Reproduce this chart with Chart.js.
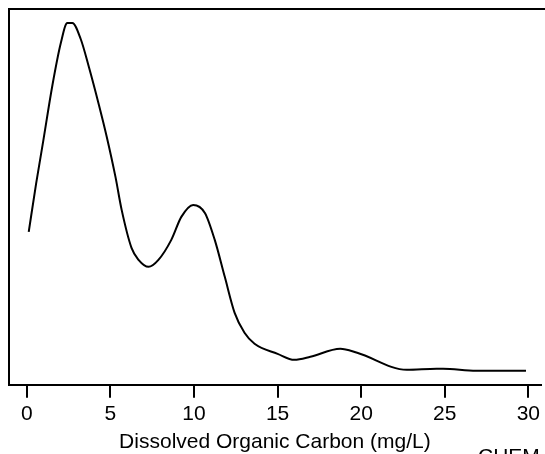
<!DOCTYPE html>
<html>
<head>
<meta charset="utf-8">
<script src="https://cdn.jsdelivr.net/npm/chart.js@4"></script>
<style>
  html, body { margin: 0; padding: 0; background: #fff; }
  #wrap { width: 545px; height: 454px; }
</style>
</head>
<body>
<div id="wrap"><canvas id="docChart"></canvas></div>
<script>
// density curve of DOC (mg/L)
const docValues = [0.11, 0.55, 0.94, 1.53, 2.03, 2.42, 2.72, 3.22, 3.71, 4.31, 4.78, 5.30, 5.67, 6.26, 6.68, 7.28,
  7.87, 8.64, 9.24, 9.95, 10.65, 11.24, 11.84, 12.43, 13.02, 13.62, 15.0, 16.0, 16.96, 18.75, 19.76,
  22.73, 24.51, 24.9, 26.88, 29.86];
const densityValues = [153, 201, 240, 300, 342, 362, 362, 346, 318, 280, 248, 208, 175, 137, 125, 118,
  125, 145, 168, 180, 172, 145, 108, 72, 52, 41, 31, 25, 28, 36, 32,
  15, 16, 16, 14, 14];
const tickValues = [0, 5, 10, 15, 20, 25, 30];
const xTitle = "Dissolved Organic Carbon (mg/L)";
const cornerText = "CHEM";

const font = "'Liberation Sans', Arial, sans-serif";

const points = docValues.map((x, i) => ({ x: x, y: densityValues[i] }));

const frame = {
  id: "frame",
  afterDraw(chart) {
    const { ctx, chartArea: a } = chart;
    ctx.save();
    ctx.strokeStyle = "#000";
    ctx.lineWidth = 2;
    ctx.beginPath();
    ctx.moveTo(chart.width + 2, a.top);
    ctx.lineTo(a.left, a.top);
    ctx.lineTo(a.left, a.bottom);
    ctx.stroke();
    ctx.fillStyle = "#000";
    ctx.font = "21px " + font;
    ctx.textBaseline = "alphabetic";
    ctx.fillText(cornerText, 478, 463);
    ctx.restore();
  }
};

new Chart(document.getElementById("docChart"), {
  type: "line",
  data: {
    datasets: [{
      data: points,
      borderColor: "#000",
      borderWidth: 2,
      pointRadius: 0,
      fill: false,
      cubicInterpolationMode: "monotone"
    }]
  },
  options: {
    responsive: true,
    maintainAspectRatio: false,
    animation: false,
    layout: { padding: { left: 9, top: 9, right: 0, bottom: 0 } },
    plugins: { legend: { display: false }, tooltip: { enabled: false } },
    scales: {
      x: {
        type: "linear",
        min: -1.07,
        max: 30.75,
        afterBuildTicks(axis) {
          axis.ticks = tickValues.map(v => ({ value: v }));
        },
        grid: { drawOnChartArea: false, drawTicks: true, tickLength: 13, color: "#000", lineWidth: 2 },
        border: { display: true, color: "#000", width: 2 },
        ticks: { color: "#000", font: { family: font, size: 21, lineHeight: 1.1 }, padding: 5, maxRotation: 0 },
        title: { display: true, text: xTitle, color: "#000", font: { family: font, size: 21, lineHeight: 1.1 }, padding: { top: 0, bottom: 0 } }
      },
      y: {
        display: false,
        min: 0,
        max: 376
      }
    }
  },
  plugins: [frame]
});
</script>
</body>
</html>
